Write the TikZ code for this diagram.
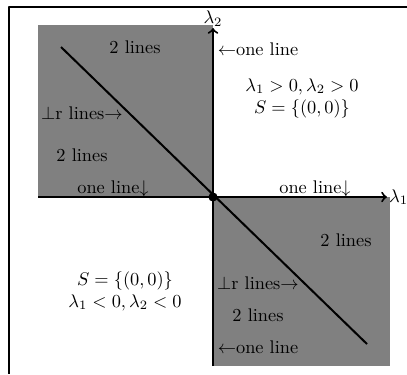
\documentclass[tikz,border=0pt]{standalone}

\begin{document}
\begin{tikzpicture}[
  x=0.5455pt,
  y=-0.5455pt,
  line join=round,
  axis/.style={draw=black,line width=1.1pt,->},
  diag/.style={draw=black,line width=1.1pt},
  region/.style={fill=gray},
  frame/.style={draw=black,line width=0.8pt},
  lbl/.style={inner sep=0pt,align=center}
]
  \useasboundingbox (0,0) rectangle (407,374);

  % Frame corners.
  \coordinate (f0) at (407,7);
  \coordinate (f1) at (9,7);
  \coordinate (f2) at (9,374);

  % Origin and region corners.
  \coordinate (O) at (213,197);
  \coordinate (ul) at (38,25);
  \coordinate (lr) at (390,366);

  % Axis ends.
  \coordinate (xmin) at (38,197);
  \coordinate (xmax) at (387,197);
  \coordinate (ymin) at (213,366);
  \coordinate (ymax) at (213,28);

  % Diagonal ends.
  \coordinate (d1) at (61,47);
  \coordinate (d2) at (367,344);

  % Shaded quadrants.
  \fill[region] (ul) rectangle (O);
  \fill[region] (O) rectangle (lr);

  \draw[frame] (f0) -- (f1) -- (f2);

  % Axes and the diagonal.
  \draw[axis] (xmin) -- (xmax);
  \draw[axis] (ymin) -- (ymax);
  \draw[diag] (d1) -- (d2);
  \fill[black] (O) circle[radius=2.5pt];

  \node[anchor=west,inner sep=0pt,xshift=1pt] (l1) at (xmax) {$\lambda_1$};
  \node[anchor=south,inner sep=0.5pt] (l2) at (ymax) {$\lambda_2$};

  % Upper-left quadrant.
  \node[lbl] (ul2a) at (135,47) {2 lines};
  \node[lbl] (ulperp) at (82,113) {$\perp$r lines$\rightarrow$};
  \node[lbl] (ul2b) at (82,155) {2 lines};
  \node[lbl,anchor=base] (ulone) at (113,193) {one line$\downarrow$};

  % Upper-right quadrant.
  \node[lbl] (urone) at (258,49) {$\leftarrow$one line};
  \node[lbl] (urS) at (302,98) {$\lambda_1>0,\lambda_2>0$\\$S=\{(0,0)\}$};
  \node[lbl,anchor=base] (urdown) at (315,193) {one line$\downarrow$};

  % Lower-right quadrant.
  \node[lbl] (lr2a) at (346,240) {2 lines};
  \node[lbl] (lrperp) at (258,283) {$\perp$r lines$\rightarrow$};
  \node[lbl] (lr2b) at (258,315) {2 lines};
  \node[lbl] (lrone) at (258,347) {$\leftarrow$one line};

  % Lower-left quadrant.
  \node[lbl] (llS) at (125,291) {$S=\{(0,0)\}$\\$\lambda_1<0,\lambda_2<0$};
\end{tikzpicture}
\end{document}
